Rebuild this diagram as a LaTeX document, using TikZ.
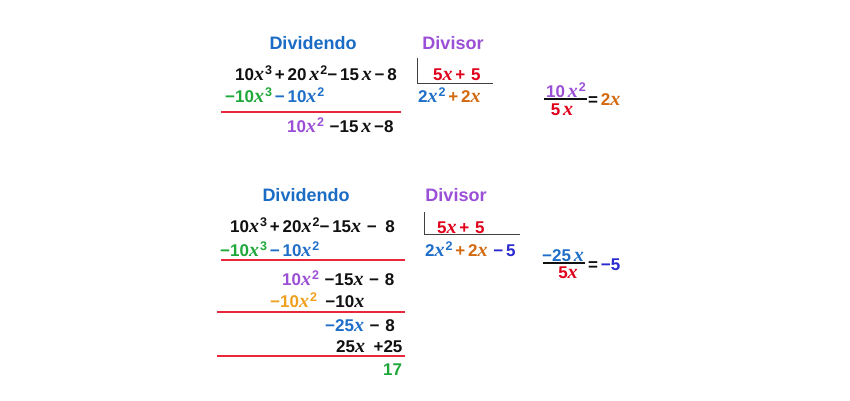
\documentclass[tikz,border=0pt]{standalone}
\usepackage{fontspec}
\setmainfont{Liberation Sans}
\newfontfamily\xfont{Liberation Serif}
\usepackage{tikz}

\definecolor{headblue}{HTML}{1A6CC4}
\definecolor{headpurple}{HTML}{9B4FD6}
\definecolor{divred}{HTML}{E0001B}
\definecolor{rulered}{HTML}{E8283A}
\definecolor{termgreen}{HTML}{1FA83A}
\definecolor{termblue}{HTML}{1F6FC8}
\definecolor{termorange}{HTML}{D2690F}
\definecolor{termamber}{HTML}{F0A01E}
\definecolor{quotblue}{HTML}{2A2AD0}
\definecolor{ink}{HTML}{111111}

\newcommand{\vx}{{\xfont\itshape\fontsize{20}{20}\selectfont x}}
\newcommand{\pw}[1]{\raisebox{0.6ex}{\fontsize{12.5}{12.5}\selectfont\kern1pt#1}}

\tikzset{
  head/.style={font=\bfseries\fontsize{18}{18}\selectfont, inner sep=0pt, anchor=base},
  term/.style={font=\bfseries\fontsize{17}{17}\selectfont, text=ink, inner sep=0pt, anchor=base west},
  frac/.style={font=\bfseries\fontsize{17}{17}\selectfont, text=ink, inner sep=0pt, anchor=base},
  rule/.style={rulered, line width=1.4pt},
  bracket/.style={ink!80, line width=1pt}
}

\begin{document}
\begin{tikzpicture}[x=1pt,y=-1pt]
        \useasboundingbox[fill=white] (0,0) rectangle (850,400);

        \node[head, text=headblue] (DividendoA) at (313,49) {Dividendo};
        \node[head, text=headpurple] (DivisorA) at (453,49) {Divisor};
        \node[term] (RowAOne) at (235,80) {10\vx\pw{3}\,+\,20\,\vx\pw{2}−\,15\,\vx\,−\,8};
        \node[term, text=divred] (DivisorATerm) at (433,80) {5\vx\,+\,\,5};
        \node[term] (RowATwo) at (225,102) {\textcolor{termgreen}{−10\vx\pw{3}}\,\textcolor{termblue}{−\,10\vx\pw{2}}};
        \node[term] (QuotientA) at (418,102) {\textcolor{termblue}{2\vx\pw{2}}\,\textcolor{termorange}{+\,2\vx}};
        \node[term] (RowAThree) at (287,132) {\textcolor{headpurple}{10\vx\pw{2}}\,\,−15\,\vx\,−8};
        \draw[bracket] (417,58) coordinate (BracketATop) -- (417,83) coordinate (BracketACorner) -- (493,83) coordinate (BracketAEnd);
        \draw[rule] (221,112) coordinate (RuleAStart) -- (401,112) coordinate (RuleAEnd);

        \node[frac, text=headpurple] (FracANum) at (566,97) {10\,\vx\pw{2}};
        \node[frac, text=divred] (FracADen) at (562,115) {5\,\vx};
        \draw[ink, line width=1.4pt] (544,99) coordinate (BarAStart) -- (587,99) coordinate (BarAEnd);
        \node[frac, anchor=base west] (FracAEq) at (588,105) {=\,\textcolor{termorange}{2\vx}};

        \node[head, text=headblue] (DividendoB) at (306,201) {Dividendo};
        \node[head, text=headpurple] (DivisorB) at (456,201) {Divisor};
        \node[term] (RowBOne) at (230,232) {10\vx\pw{3}\,+\,20\vx\pw{2}−\,15\vx\,\,−\,\,\,8};
        \node[term, text=divred] (DivisorBTerm) at (437,233) {5\vx\,+\,\,5};
        \node[term] (RowBTwo) at (220,256) {\textcolor{termgreen}{−10\vx\pw{3}}\,\textcolor{termblue}{−\,10\vx\pw{2}}};
        \node[term] (QuotientB) at (425,256) {\textcolor{termblue}{2\vx\pw{2}}\,\textcolor{termorange}{+\,2\vx}\,\,\textcolor{quotblue}{−\,5}};
        \node[term] (RowBThree) at (282,285) {\textcolor{headpurple}{10\vx\pw{2}}\,\,−15\vx\,\,−\,\,8};
        \node[term] (RowBFour) at (270,307) {\textcolor{termamber}{−10\vx\pw{2}}\,\,\,−10\vx};
        \node[term] (RowBFive) at (325,331) {\textcolor{termblue}{−25\vx}\,\,−\,\,8};
        \node[term] (RowBSix) at (336,352) {25\vx\,\,\,+25};
        \node[term, text=termgreen] (RemainderB) at (383,375) {17};
        \draw[bracket] (424,212) coordinate (BracketBTop) -- (424,234) coordinate (BracketBCorner) -- (520,234) coordinate (BracketBEnd);
        \draw[rule] (221,260) coordinate (RuleBOneStart) -- (405,260) coordinate (RuleBOneEnd);
        \draw[rule] (217,312) coordinate (RuleBTwoStart) -- (405,312) coordinate (RuleBTwoEnd);
        \draw[rule] (217,356) coordinate (RuleBThreeStart) -- (405,356) coordinate (RuleBThreeEnd);

        \node[frac, text=termblue] (FracBNum) at (563,261) {−25\,\vx};
        \node[frac, text=divred] (FracBDen) at (568,278) {5\vx};
        \draw[ink, line width=1.4pt] (543,263) coordinate (BarBStart) -- (585,263) coordinate (BarBEnd);
        \node[frac, anchor=base west] (FracBEq) at (588,270) {=\,\textcolor{quotblue}{−5}};
    \end{tikzpicture}
\end{document}
